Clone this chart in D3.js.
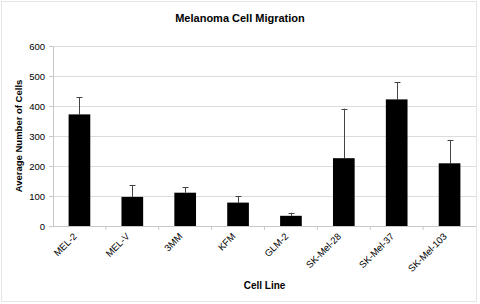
<!DOCTYPE html>
<html>
<head>
<meta charset="utf-8">
<script src="https://cdn.jsdelivr.net/npm/d3@7"></script>
<style>
  body { margin: 0; background: #fff; }
  svg { font-family: "Liberation Sans", Arial, sans-serif; }
</style>
</head>
<body>
<svg width="480" height="304"></svg>
<script>
// Data
const cellLines = ["MEL-2", "MEL-V", "3MM", "KFM", "GLM-2", "SK-Mel-28", "SK-Mel-37", "SK-Mel-103"];
const meanCells = [372, 97, 111, 78, 34, 226, 422, 209];
const errorTops = [430, 137, 129, 99, 44, 391, 480, 286];
const yTicks = [0, 100, 200, 300, 400, 500, 600];

const svg = d3.select("svg"),
      margin = {top: 46, right: 4, bottom: 78, left: 53},
      width = 480 - margin.left - margin.right,
      height = 304 - margin.top - margin.bottom;

// outer chart border
svg.append("rect")
   .attr("x", 1.5).attr("y", 1.5)
   .attr("width", 475).attr("height", 300)
   .attr("fill", "none")
   .attr("stroke", "#e4e4e4");

const g = svg.append("g").attr("transform", `translate(${margin.left},${margin.top})`);

const x = d3.scaleBand().domain(cellLines).range([0, width]).paddingInner(0.59).paddingOuter(0.295);
const xTick = d3.scaleBand().domain(cellLines).range([0, width]);
const y = d3.scaleLinear().domain([0, 600]).range([height, 0]);

// gridlines
g.append("g")
 .selectAll("line")
 .data(yTicks.slice(1))
 .enter().append("line")
 .attr("x1", 0).attr("x2", width)
 .attr("y1", d => Math.round(y(d)) + 0.5).attr("y2", d => Math.round(y(d)) + 0.5)
 .attr("stroke", "#dcdcdc");

// y axis
const yAxis = g.append("g")
 .call(d3.axisLeft(y).tickValues(yTicks).tickSize(4).tickPadding(4));
yAxis.selectAll("text").style("font-size", "9.5px").attr("fill", "#000");
yAxis.selectAll("line, path").attr("stroke", "#c8c8c8");

// x axis (ticks between categories)
const xAxisG = g.append("g").attr("transform", `translate(0,${height})`);
xAxisG.append("line")
 .attr("x1", 0).attr("x2", width)
 .attr("y1", 0.5).attr("y2", 0.5)
 .attr("stroke", "#c8c8c8");
xAxisG.selectAll(".tk")
 .data(cellLines.slice(1))
 .enter().append("line")
 .attr("class", "tk")
 .attr("x1", d => xTick(d)).attr("x2", d => xTick(d))
 .attr("y1", 0).attr("y2", 4)
 .attr("stroke", "#c8c8c8");
xAxisG.selectAll(".lbl")
 .data(cellLines)
 .enter().append("text")
 .attr("class", "lbl")
 .attr("text-anchor", "end")
 .attr("transform", d => `translate(${x(d) + x.bandwidth() / 2 - 2},${11}) rotate(-45)`)
 .style("font-size", "9.5px")
 .attr("fill", "#000")
 .text(d => d);

// error bars
const errG = g.append("g");
cellLines.forEach((c, i) => {
  const cx = Math.round(x(c) + x.bandwidth() / 2) + 0.5;
  errG.append("line")
    .attr("x1", cx).attr("x2", cx)
    .attr("y1", y(meanCells[i])).attr("y2", y(errorTops[i]))
    .attr("stroke", "#444");
  errG.append("line")
    .attr("x1", cx - 3).attr("x2", cx + 3)
    .attr("y1", Math.round(y(errorTops[i])) + 0.5).attr("y2", Math.round(y(errorTops[i])) + 0.5)
    .attr("stroke", "#444");
});

// bars
g.selectAll(".bar")
 .data(cellLines)
 .enter().append("rect")
 .attr("class", "bar")
 .attr("x", d => x(d))
 .attr("y", (d, i) => y(meanCells[i]))
 .attr("width", x.bandwidth())
 .attr("height", (d, i) => height - y(meanCells[i]))
 .attr("fill", "#000");

// titles
svg.append("text")
   .attr("x", 240).attr("y", 22)
   .attr("text-anchor", "middle")
   .style("font", "bold 11px 'Liberation Sans', Arial, sans-serif")
   .text("Melanoma Cell Migration");

svg.append("text")
   .attr("x", margin.left + width / 2).attr("y", 289)
   .attr("text-anchor", "middle")
   .style("font", "bold 10px 'Liberation Sans', Arial, sans-serif")
   .text("Cell Line");

svg.append("text")
   .attr("transform", `translate(22,${margin.top + height / 2}) rotate(-90)`)
   .attr("text-anchor", "middle")
   .style("font", "bold 9.5px 'Liberation Sans', Arial, sans-serif")
   .text("Average Number of Cells");
</script>
</body>
</html>
